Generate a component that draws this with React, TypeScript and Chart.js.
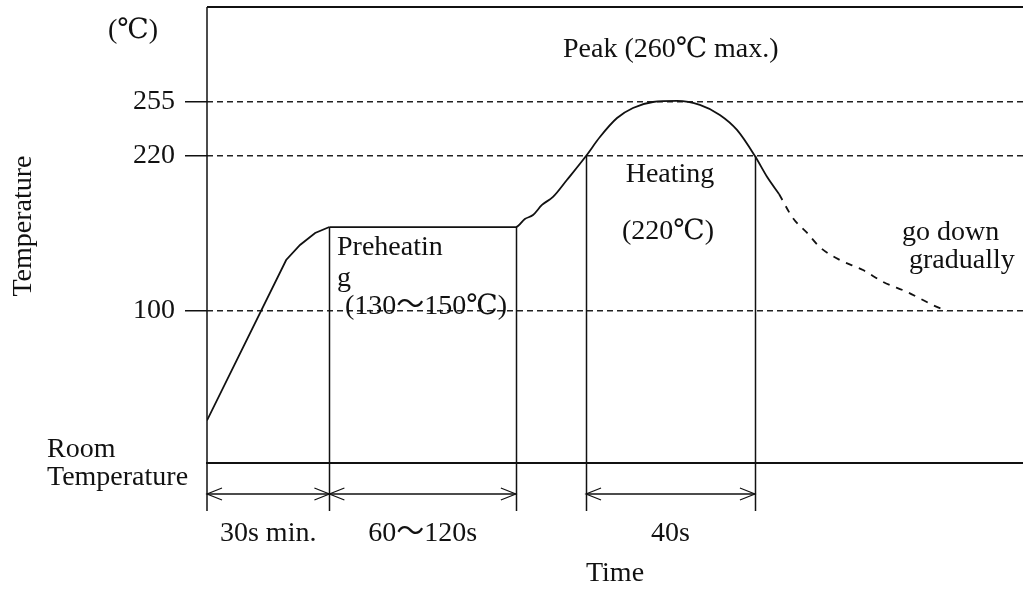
import React, { useEffect, useRef } from 'react';
import { Chart, registerables, LinearScale } from 'chart.js';

// ---- data ----
const yTicks = [100, 220, 255];
const yAnchorValues = [25, 100, 220, 255, 300];
const yAnchorFractions = [0, 0.33333, 0.67325, 0.79167, 1];

const rampTime = [0, 19.4, 22.8, 26.5, 30];
const rampTemp = [46, 139.5, 151.1, 160.4, 165];
const heatTime = [30, 75.7, 77.9, 79.9, 82.1, 84.8, 88.2, 92.9, 96.3, 100.5, 104.4, 109.3, 115.2, 120.8, 125.7, 129.9, 134.3, 137.3, 140.2];
const heatTemp = [165, 165, 171.2, 174.3, 182.1, 188.3, 201.4, 220, 232.3, 244.6, 251.1, 255, 255.5, 253.1, 246.6, 236.9, 220, 203.7, 190.6];
const coolTime = [140.2, 143.6, 147.1, 150.2, 155.1, 160.8, 165.7, 171.6, 177.9, 181.4];
const coolTemp = [190.6, 172, 160.4, 149.5, 139.5, 131.7, 122.5, 114.7, 104.6, 100];

const markerTimes = [30, 75.7, 92.9, 134.3];
const markerTemps = [165, 165, 220, 220];
const spanStart = [0, 30, 92.9];
const spanEnd = [30, 75.7, 134.3];
const spanLabels = ['30s min.', '60～120s', '40s'];

const FONT_FAMILY = '"Liberation Serif", "DejaVu Serif", "Noto Sans CJK JP", serif';
const FONT_SIZE = 28;
const INK = '#111';

class PiecewiseScale extends LinearScale {
  static id = 'piecewise';
  static defaults = LinearScale.defaults;
  getPixelForValue(value: any) {
    if (value === null || value === undefined || isNaN(value)) return NaN;
    const vs = yAnchorValues, fs = yAnchorFractions;
    let i = 0;
    while (i < vs.length - 2 && value > vs[i + 1]) i++;
    const f = fs[i] + ((value - vs[i]) / (vs[i + 1] - vs[i])) * (fs[i + 1] - fs[i]);
    return (this as any).getPixelForDecimal(f);
  }
  getValueForPixel(pixel: number) {
    const vs = yAnchorValues, fs = yAnchorFractions;
    const f = (this as any).getDecimalForPixel(pixel);
    let i = 0;
    while (i < fs.length - 2 && f > fs[i + 1]) i++;
    return vs[i] + ((f - fs[i]) / (fs[i + 1] - fs[i])) * (vs[i + 1] - vs[i]);
  }
}

Chart.register(...registerables, PiecewiseScale as any);

const toPoints = (xs: number[], ys: number[]) => xs.map((x, i) => ({ x, y: ys[i] }));

const annotations = [
  { text: '(℃)', x: 108, y: 38, align: 'left' },
  { text: 'Peak (260℃ max.)', x: 563, y: 57, align: 'left' },
  { text: 'Heating', x: 670, y: 182, align: 'center' },
  { text: '(220℃)', x: 668, y: 239, align: 'center' },
  { text: 'Preheatin', x: 337, y: 255, align: 'left' },
  { text: 'g', x: 337, y: 286, align: 'left' },
  { text: '(130～150℃)', x: 345, y: 314, align: 'left' },
  { text: 'go down', x: 902, y: 240, align: 'left' },
  { text: 'gradually', x: 909, y: 268, align: 'left' },
  { text: 'Room', x: 47, y: 457, align: 'left' },
  { text: 'Temperature', x: 47, y: 485, align: 'left' },
];

const diagramPlugin = {
  id: 'diagram',
  afterDraw(chart: any) {
    const { ctx, chartArea, scales } = chart;
    const xs = scales.x, ys = scales.y;
    const bottom = chartArea.bottom;
    const extBottom = bottom + 48;
    const dimY = bottom + 31;
    ctx.save();
    ctx.strokeStyle = INK;
    ctx.setLineDash([]);
    // top border
    ctx.lineWidth = 1.8;
    ctx.beginPath();
    ctx.moveTo(chartArea.left, chartArea.top);
    ctx.lineTo(chart.width, chartArea.top);
    ctx.stroke();
    // left border / extension
    ctx.lineWidth = 1.5;
    ctx.beginPath();
    ctx.moveTo(chartArea.left, chartArea.top);
    ctx.lineTo(chartArea.left, extBottom);
    ctx.stroke();
    // marker verticals
    markerTimes.forEach((t, i) => {
      const x = Math.round(xs.getPixelForValue(t)) + 0.5;
      ctx.beginPath();
      ctx.moveTo(x, ys.getPixelForValue(markerTemps[i]));
      ctx.lineTo(x, extBottom);
      ctx.stroke();
    });
    // dimension arrows
    const arrowLen = 15, arrowHalf = 6;
    ctx.font = `${FONT_SIZE}px ${FONT_FAMILY}`;
    ctx.fillStyle = INK;
    ctx.textBaseline = 'alphabetic';
    spanStart.forEach((s, i) => {
      const x1 = xs.getPixelForValue(s);
      const x2 = xs.getPixelForValue(spanEnd[i]);
      ctx.lineWidth = 1.5;
      ctx.beginPath();
      ctx.moveTo(x1, dimY);
      ctx.lineTo(x2, dimY);
      ctx.stroke();
      ctx.lineWidth = 1.2;
      ctx.beginPath();
      ctx.moveTo(x1 + arrowLen, dimY - arrowHalf);
      ctx.lineTo(x1, dimY);
      ctx.lineTo(x1 + arrowLen, dimY + arrowHalf);
      ctx.moveTo(x2 - arrowLen, dimY - arrowHalf);
      ctx.lineTo(x2, dimY);
      ctx.lineTo(x2 - arrowLen, dimY + arrowHalf);
      ctx.stroke();
      ctx.textAlign = 'center';
      ctx.fillText(spanLabels[i], (x1 + x2) / 2, bottom + 78);
    });
    // annotations
    annotations.forEach((a) => {
      ctx.textAlign = a.align;
      ctx.fillText(a.text, a.x, a.y);
    });
    // rotated y title
    ctx.save();
    ctx.translate(31, 226);
    ctx.rotate(-Math.PI / 2);
    ctx.textAlign = 'center';
    ctx.fillText('Temperature', 0, 0);
    ctx.restore();
    ctx.restore();
  },
};

export default function App() {
  const ref = useRef<HTMLCanvasElement>(null);
  useEffect(() => {
    if (!ref.current) return;
    const font = { family: FONT_FAMILY, size: FONT_SIZE };
    const chart = new Chart(ref.current, {
      type: 'line',
      data: {
        datasets: [
          { data: toPoints(rampTime, rampTemp), borderColor: INK, borderWidth: 1.8, pointRadius: 0, tension: 0 },
          { data: toPoints(heatTime, heatTemp), borderColor: INK, borderWidth: 1.8, pointRadius: 0, cubicInterpolationMode: 'monotone' },
          { data: toPoints(coolTime, coolTemp), borderColor: INK, borderWidth: 1.8, pointRadius: 0, borderDash: [7, 7], cubicInterpolationMode: 'monotone' },
        ] as any,
      },
      options: {
        responsive: false,
        devicePixelRatio: 1,
        animation: false,
        layout: { padding: { top: 7, right: 0, left: 0, bottom: 0 } },
        plugins: { legend: { display: false }, tooltip: { enabled: false } },
        scales: {
          x: {
            type: 'linear',
            min: 0,
            max: 200,
            ticks: { display: false },
            grid: { display: false },
            border: { display: true, color: INK, width: 2 },
            title: { display: true, text: 'Time', font, color: INK, padding: { top: 0, bottom: 0 } },
            afterFit: (scale: any) => { scale.height = 127; scale.paddingLeft = 0; scale.paddingRight = 0; },
          },
          y: {
            type: 'piecewise' as any,
            min: 25,
            max: 300,
            afterBuildTicks: (scale: any) => { scale.ticks = yTicks.map((v) => ({ value: v })); },
            ticks: { font, color: INK, padding: 10, callback: (v: any) => String(v) },
            grid: { color: '#222', lineWidth: 1.5, tickLength: 22, tickColor: INK, tickWidth: 1.5, tickBorderDash: [] },
            border: { display: false, dash: [6, 4] },
            afterFit: (scale: any) => { scale.width = 207; scale.paddingTop = 0; scale.paddingBottom = 0; },
          },
        } as any,
      },
      plugins: [diagramPlugin],
    });
    return () => chart.destroy();
  }, []);
  return (
    <div style={{ position: 'absolute', left: 0, top: 0, width: 1023, height: 590, background: '#fff' }}>
      <canvas ref={ref} width={1023} height={590} style={{ display: 'block' }} />
    </div>
  );
}
